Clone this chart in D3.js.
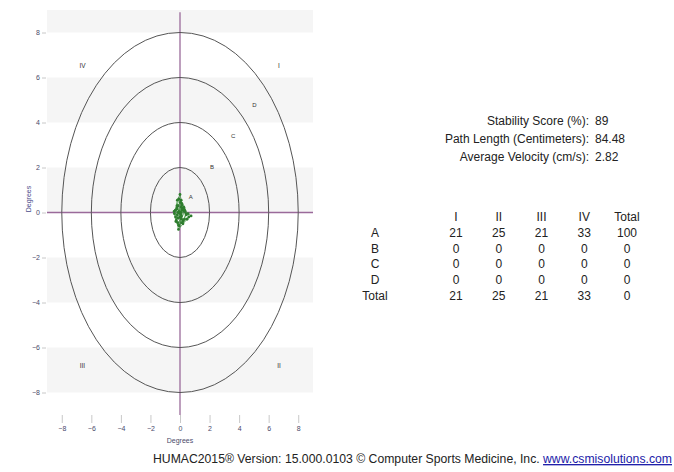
<!DOCTYPE html>
<html>
<head>
<meta charset="utf-8">
<script src="https://cdn.jsdelivr.net/npm/d3@7"></script>
<style>
  body { margin: 0; background: #fff; }
  svg { display: block; font-family: Arial, "Liberation Sans", sans-serif; }
</style>
</head>
<body>
<svg id="chart" width="674" height="472"></svg>
<script>
// ring radii (degrees) and zone labels
var rings = [2, 4, 6, 8];
var zones = ["A", "B", "C", "D"];
var zoneRadius = [1, 3, 5, 7];
var quadrants = ["I", "II", "III", "IV"];
var quadX = [6.7, 6.7, -6.6, -6.6];
var quadY = [6.5, -6.8, -6.8, 6.5];
var ticks = [-8, -6, -4, -2, 0, 2, 4, 6, 8];

// sway trace (degrees)
var swayX = [0.00, 0.12, -0.08, -0.20, 0.05, 0.18, 0.30, 0.10, -0.15, -0.30,
             -0.22, 0.02, 0.25, 0.40, 0.22, -0.05, -0.28, -0.38, -0.12, 0.08,
             0.15, -0.02, -0.18, 0.05, 0.32, 0.55, 0.75, 0.48, 0.20, -0.10,
             -0.25, -0.08, 0.12, 0.28, 0.10, -0.12, -0.32, -0.18, 0.00, 0.15,
             0.06, -0.10, 0.20, 0.42, 0.15, -0.05, 0.02, -0.20, -0.40, -0.15,
             0.10, 0.30, 0.60, 0.35, 0.05];
var swayY = [0.00, 0.35, 0.60, 0.30, -0.10, 0.20, 0.05, -0.30, -0.45, -0.20,
             0.15, 0.45, 0.25, -0.05, -0.35, -0.60, -0.40, -0.05, 0.30, 0.55,
             0.10, -0.20, -0.10, 0.25, 0.10, -0.05, -0.15, -0.30, -0.50, -0.75,
             -0.35, 0.05, 0.40, 0.20, -0.15, 0.00, 0.10, 0.55, 0.80, 0.35,
             -0.25, -0.55, -0.40, -0.10, 0.15, 0.00, -0.05, 0.20, 0.05, -0.25,
             -0.45, -0.30, -0.20, 0.05, 0.00];

// stats and quadrant table
var statLabels = ["Stability Score (%):", "Path Length (Centimeters):", "Average Velocity (cm/s):"];
var statValues = ["89", "84.48", "2.82"];
var tableCols = ["I", "II", "III", "IV", "Total"];
var tableRows = ["A", "B", "C", "D", "Total"];
var tableValues = [
  [21, 25, 21, 33, 100],
  [0, 0, 0, 0, 0],
  [0, 0, 0, 0, 0],
  [0, 0, 0, 0, 0],
  [21, 25, 21, 33, 0]
];
var footer = "HUMAC2015\u00AE Version: 15.000.0103 \u00A9 Computer Sports Medicine, Inc. ";
var footerLink = "www.csmisolutions.com";

var svg = d3.select("#chart");

var x = d3.scaleLinear().domain([-9, 9]).range([47, 313]);
var y = d3.scaleLinear().domain([-9, 9]).range([415, 10]);

// alternating grey bands
var bands = [[9, 8], [6, 4], [2, 0], [-2, -4], [-6, -8]];
svg.append("g").selectAll("rect")
    .data(bands)
  .enter().append("rect")
    .attr("x", x(-9))
    .attr("width", x(9) - x(-9))
    .attr("y", d => y(d[0]))
    .attr("height", d => y(d[1]) - y(d[0]))
    .attr("fill", "#f5f5f5");

// axes
var yAxis = g => g
    .attr("transform", "translate(" + (x(-9) - 1) + ",0)")
    .call(d3.axisLeft(y).tickValues(ticks).tickSize(4).tickPadding(2))
    .call(g => g.select(".domain").remove());
var xAxis = g => g
    .attr("transform", "translate(0," + y(-9) + ")")
    .call(d3.axisBottom(x).tickValues(ticks).tickSize(8).tickPadding(3))
    .call(g => g.select(".domain").remove());

svg.append("g").call(yAxis);
svg.append("g").call(xAxis);
svg.selectAll(".tick line").attr("stroke", "#c8c8c8");
svg.selectAll(".tick text").attr("fill", "#4a4a6a").attr("font-size", 7).attr("font-family", "Arial, 'Liberation Sans', sans-serif");

svg.append("text")
    .attr("transform", "translate(31," + y(0.6) + ") rotate(-90)")
    .attr("text-anchor", "middle")
    .attr("font-size", 7)
    .attr("fill", "#4a4a8a")
    .text("Degrees");
svg.append("text")
    .attr("x", x(0))
    .attr("y", 443)
    .attr("text-anchor", "middle")
    .attr("font-size", 7)
    .attr("fill", "#4a4a6a")
    .text("Degrees");

// crosshair
svg.append("line")
    .attr("x1", x(-9)).attr("x2", x(9))
    .attr("y1", y(0)).attr("y2", y(0))
    .attr("stroke", "#9a6a9a").attr("stroke-width", 1.6);
svg.append("line")
    .attr("x1", x(0)).attr("x2", x(0))
    .attr("y1", y(8.9)).attr("y2", y(-9))
    .attr("stroke", "#9a6a9a").attr("stroke-width", 1.3);

// rings
svg.append("g").selectAll("ellipse")
    .data(rings)
  .enter().append("ellipse")
    .attr("cx", x(0))
    .attr("cy", y(0))
    .attr("rx", d => x(d) - x(0))
    .attr("ry", d => y(0) - y(d))
    .attr("fill", "none")
    .attr("stroke", "#555")
    .attr("stroke-width", 1);

// zone labels along the diagonal
svg.append("g").selectAll("text")
    .data(zones)
  .enter().append("text")
    .attr("x", (d, i) => x(zoneRadius[i] * 0.72))
    .attr("y", (d, i) => y(zoneRadius[i] * 0.68) + 2)
    .attr("text-anchor", "middle")
    .attr("font-size", 6)
    .attr("fill", "#333")
    .text(d => d);

svg.append("g").selectAll("text")
    .data(quadrants)
  .enter().append("text")
    .attr("x", (d, i) => x(quadX[i]))
    .attr("y", (d, i) => y(quadY[i]) + 2)
    .attr("text-anchor", "middle")
    .attr("font-size", 6.5)
    .attr("fill", "#333")
    .text(d => d);

// sway path
var sway = swayX.map((v, i) => [v, swayY[i]]);
svg.append("path")
    .datum(sway)
    .attr("d", d3.line().x(d => x(d[0])).y(d => y(d[1])))
    .attr("fill", "none")
    .attr("stroke", "#4aa04a")
    .attr("stroke-width", 0.8);
svg.append("g").selectAll("circle")
    .data(sway)
  .enter().append("circle")
    .attr("cx", d => x(d[0]))
    .attr("cy", d => y(d[1]))
    .attr("r", 1.4)
    .attr("fill", "#2e7d2e");

// stats
var stats = svg.append("g").attr("font-size", 12).attr("fill", "#222");
statLabels.forEach(function(s, i) {
  stats.append("text")
      .attr("x", 589).attr("y", 125 + i * 18)
      .attr("text-anchor", "end")
      .text(s);
  stats.append("text")
      .attr("x", 595).attr("y", 125 + i * 18)
      .text(statValues[i]);
});

// quadrant table
var colX = d3.scalePoint().domain(tableCols).range([456, 627]);
var rowY = d3.scalePoint().domain(["head"].concat(tableRows)).range([221, 300]);
var table = svg.append("g").attr("font-size", 12).attr("fill", "#222").attr("text-anchor", "middle");
tableCols.forEach(function(c) {
  table.append("text").attr("x", colX(c)).attr("y", rowY("head")).text(c);
});
tableRows.forEach(function(r, i) {
  table.append("text").attr("x", 375).attr("y", rowY(r)).text(r);
  tableCols.forEach(function(c, j) {
    table.append("text").attr("x", colX(c)).attr("y", rowY(r)).text(tableValues[i][j]);
  });
});

// footer
var foot = svg.append("text")
    .attr("transform", "translate(672,463) scale(0.94,1)")
    .attr("text-anchor", "end")
    .attr("font-size", 13)
    .attr("fill", "#222");
foot.append("tspan").text(footer);
foot.append("tspan").attr("fill", "#1a1aa8").attr("text-decoration", "underline").text(footerLink);
</script>
</body>
</html>
